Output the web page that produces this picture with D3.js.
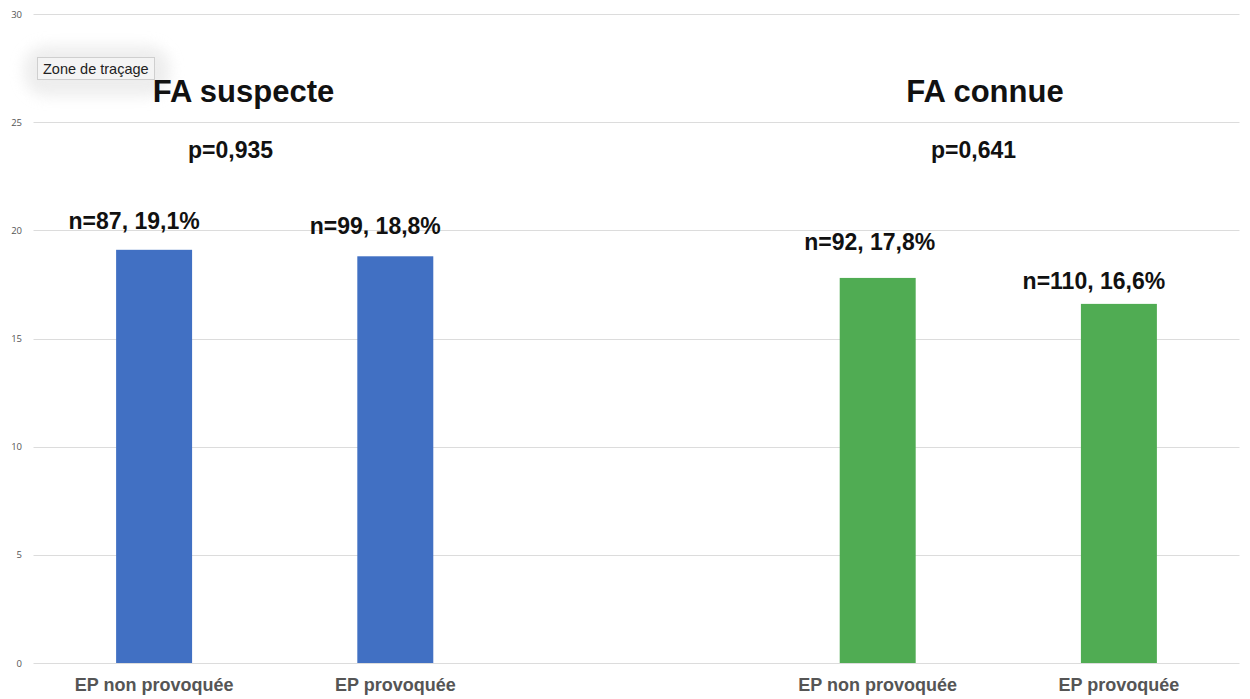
<!DOCTYPE html>
<html>
<head>
<meta charset="utf-8">
<script src="https://cdn.jsdelivr.net/npm/d3@7"></script>
<style>
  html, body { margin: 0; padding: 0; background: #fff; }
  svg { display: block; font-family: "Liberation Sans", Arial, sans-serif; }
</style>
</head>
<body>
<svg id="chart" width="1250" height="699"></svg>
<script>
// Slots along the x axis (the middle slot is an empty gap between the two groups)
const slots = ["s1", "s2", "gap", "s3", "s4"];
const barSlots = ["s1", "s2", "s3", "s4"];
const barCategories = ["EP non provoquée", "EP provoquée", "EP non provoquée", "EP provoquée"];
const barValues = [19.1, 18.8, 17.8, 16.6];
const barCounts = [87, 99, 92, 110];
const barColors = ["#4170c3", "#4170c3", "#50ac53", "#50ac53"];
const groupTitles = ["FA suspecte", "FA connue"];
const groupPValues = ["p=0,935", "p=0,641"];
const yTicks = [0, 5, 10, 15, 20, 25, 30];

const svg = d3.select("#chart");
const plot = { left: 33.5, right: 1239.5, top: 14, bottom: 663 };

const x = d3.scaleBand().domain(slots).range([plot.left, plot.right]).padding(0);
const y = d3.scaleLinear().domain([0, 30]).range([plot.bottom, plot.top]);
const barW = x.bandwidth() * 0.315;
const cx = s => x(s) + x.bandwidth() / 2;

// horizontal gridlines
svg.append("g")
  .selectAll("line")
  .data(yTicks)
  .join("line")
  .attr("x1", plot.left).attr("x2", plot.right)
  .attr("y1", d => Math.round(y(d)) + 0.5).attr("y2", d => Math.round(y(d)) + 0.5)
  .attr("stroke", "#dcdcdc").attr("stroke-width", 1);

// y axis tick labels
const yAxis = d3.axisLeft(y).tickValues(yTicks).tickSize(0).tickPadding(0);
const gy = svg.append("g").attr("transform", `translate(${22},0)`).call(yAxis);
gy.select(".domain").remove();
gy.selectAll("text")
  .attr("font-size", 9.5)
  .attr("fill", "#555")
  .attr("font-family", "'Open Sans', 'Liberation Sans', sans-serif");

// bars
svg.append("g")
  .selectAll("rect")
  .data(barValues)
  .join("rect")
  .attr("x", (d, i) => cx(barSlots[i]) - barW / 2)
  .attr("width", barW)
  .attr("y", d => y(d))
  .attr("height", d => y(0) - y(d))
  .attr("fill", (d, i) => barColors[i]);

// x axis category labels
const xAxis = d3.axisBottom(x).tickSize(0).tickPadding(0)
  .tickValues(barSlots)
  .tickFormat(s => barCategories[barSlots.indexOf(s)]);
const gx = svg.append("g").attr("transform", `translate(0,${plot.bottom})`).call(xAxis);
gx.select(".domain").remove();
gx.selectAll("text")
  .attr("dy", 0)
  .attr("y", 28)
  .attr("font-size", 18)
  .attr("font-weight", "bold")
  .attr("fill", "#555")
  .attr("font-family", "'Liberation Sans', Arial, sans-serif");

// hover tooltip "Zone de traçage" (sits beneath the titles)
const defs = svg.append("defs");
const blur = defs.append("filter").attr("id", "glow").attr("x", "-50%").attr("y", "-50%").attr("width", "200%").attr("height", "200%");
blur.append("feGaussianBlur").attr("stdDeviation", 7);
const tip = svg.append("g");
tip.append("rect")
  .attr("x", 24).attr("y", 46).attr("width", 146).attr("height", 50).attr("rx", 22)
  .attr("fill", "#e2e2e2").attr("opacity", 0.6).attr("filter", "url(#glow)");
tip.append("rect")
  .attr("x", 37.5).attr("y", 57.5).attr("width", 117).attr("height", 22)
  .attr("fill", "#f4f4f4").attr("stroke", "#cfcfcf").attr("stroke-width", 1);
tip.append("text")
  .attr("x", 43).attr("y", 73.5)
  .attr("font-size", 14.5)
  .attr("fill", "#222")
  .attr("font-family", "'Liberation Sans', Arial, sans-serif")
  .text("Zone de traçage");

// value labels above the bars (free text boxes, each placed with its own offset)
const labelLift = [21, 22, 28, 15];
const labelShift = [-20, -20, -8, -25];
svg.append("g")
  .selectAll("text")
  .data(barValues)
  .join("text")
  .attr("x", (d, i) => cx(barSlots[i]) + labelShift[i])
  .attr("y", (d, i) => y(d) - labelLift[i])
  .attr("text-anchor", "middle")
  .attr("font-size", 23)
  .attr("font-weight", "bold")
  .attr("fill", "#111")
  .text((d, i) => `n=${barCounts[i]}, ${d3.format(".1f")(d).replace(".", ",")}%`);

// group titles and p-values
const titleX = [243.5, 985];
const pX = [230.5, 973.5];
svg.append("g")
  .selectAll("text")
  .data(groupTitles)
  .join("text")
  .attr("x", (d, i) => titleX[i])
  .attr("y", 102)
  .attr("text-anchor", "middle")
  .attr("font-size", 31)
  .attr("font-weight", "bold")
  .attr("fill", "#111")
  .text(d => d);
svg.append("g")
  .selectAll("text")
  .data(groupPValues)
  .join("text")
  .attr("x", (d, i) => pX[i])
  .attr("y", 158)
  .attr("text-anchor", "middle")
  .attr("font-size", 23)
  .attr("font-weight", "bold")
  .attr("fill", "#111")
  .text(d => d);
</script>
</body>
</html>
